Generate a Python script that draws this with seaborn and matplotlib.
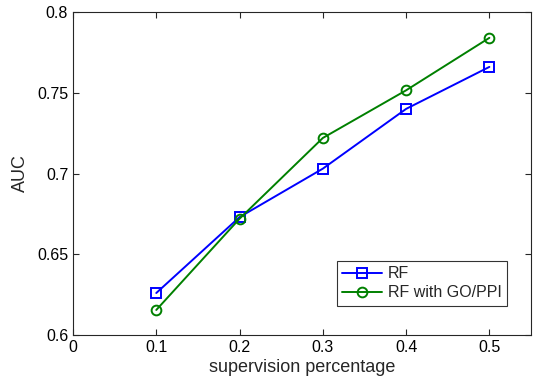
import matplotlib
matplotlib.use("Agg")
import matplotlib.pyplot as plt
import seaborn as sns
import pandas as pd

x_vals = [0.1, 0.2, 0.3, 0.4, 0.5]
rf = [0.626, 0.673, 0.703, 0.740, 0.766]
rf_go = [0.6155, 0.672, 0.722, 0.7515, 0.784]
series_names = ["RF", "RF with GO/PPI"]
x_ticks = [0, 0.1, 0.2, 0.3, 0.4, 0.5]
y_ticks = [0.6, 0.65, 0.7, 0.75, 0.8]
y_tick_labels = ["0.6", "0.65", "0.7", "0.75", "0.8"]

sns.set_theme(style="white")
plt.rcParams["font.family"] = ["Liberation Sans", "DejaVu Sans"]

df = pd.DataFrame({
    "x": x_vals * 2,
    "AUC": rf + rf_go,
    "series": [series_names[0]] * len(rf) + [series_names[1]] * len(rf_go),
})

fig = plt.figure(figsize=(5.34, 3.8), dpi=100)
ax = fig.add_axes([73 / 534, 1 - 335 / 380, (531 - 73) / 534, (335 - 12) / 380])

sns.lineplot(data=df, x="x", y="AUC", hue="series", style="series",
             markers={"RF": "s", "RF with GO/PPI": "o"}, dashes=False,
             palette={"RF": "#0000ff", "RF with GO/PPI": "#008000"},
             linewidth=1.4, markersize=7, markerfacecolor="none",
             markeredgewidth=1.4, ax=ax)
for line in ax.lines:
    line.set_markerfacecolor("none")
    line.set_markeredgecolor(line.get_color())

ax.set_xlim(0, 0.55)
ax.set_ylim(0.6, 0.8)
ax.set_xticks(x_ticks)
ax.set_xticklabels([("0" if t == 0 else f"{t:g}") for t in x_ticks])
ax.set_yticks(y_ticks)
ax.set_yticklabels(y_tick_labels)
ax.tick_params(direction="in", length=4, width=0.8, colors="#262626",
               labelsize=11.5, top=True, right=True, bottom=True, left=True,
               labelcolor="black")
for s in ax.spines.values():
    s.set_color("#262626")
    s.set_linewidth(0.8)
    s.set_visible(True)
ax.set_xlabel("supervision percentage", fontsize=13, labelpad=3)
ax.set_ylabel("AUC", fontsize=13, labelpad=6)

leg = ax.legend(loc="lower right", bbox_to_anchor=(0.948, 0.09), borderaxespad=0,
                fontsize=11.5, frameon=True, fancybox=False, edgecolor="black",
                handlelength=2.5, handletextpad=0.35, borderpad=0.35,
                labelspacing=0.25)
leg.get_frame().set_linewidth(0.8)
for h in leg.legend_handles:
    h.set_markerfacecolor("none")

fig.savefig("out.png", dpi=100)
